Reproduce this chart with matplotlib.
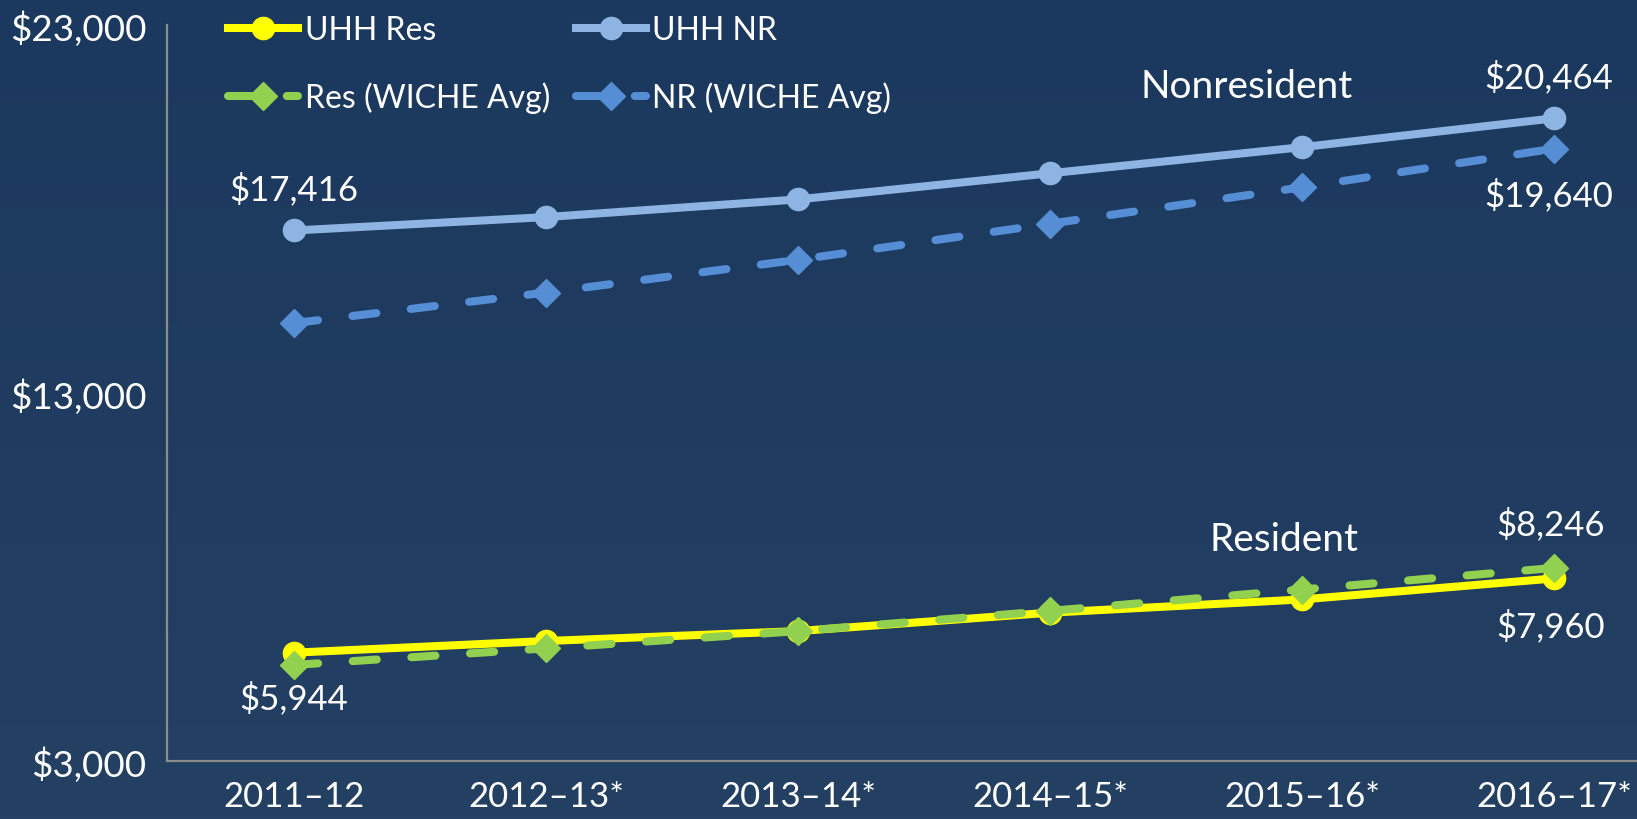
import matplotlib
matplotlib.use("Agg")
import matplotlib.pyplot as plt
import numpy as np

categories = ["2011\u201312", "2012\u201313*", "2013\u201314*", "2014\u201315*", "2015\u201316*", "2016\u201317*"]
uhh_res = [5944, 6260, 6530, 7030, 7390, 7960]
wiche_res = [5610, 6060, 6530, 7080, 7660, 8246]
uhh_nr = [17416, 17780, 18260, 18970, 19680, 20464]
wiche_nr = [14900, 15730, 16620, 17600, 18590, 19640]
y_ticks = [3000, 13000, 23000]

plt.rcParams['font.family'] = ['Lato', 'DejaVu Sans']
FS = 25

fig = plt.figure(figsize=(16.37, 8.20), dpi=100)
# background gradient
bg = fig.add_axes([0, 0, 1, 1], zorder=-10)
grad = np.linspace(0, 1, 256).reshape(-1, 1)
top = np.array([27, 56, 94]) / 255
bot = np.array([36, 64, 99]) / 255
img = top[None, None, :] * (1 - grad[:, :, None]) + bot[None, None, :] * grad[:, :, None]
bg.imshow(img, aspect='auto', extent=[0, 1, 0, 1])
bg.axis('off')

ax = fig.add_axes([167/1637, 58/820, 1 - 167/1637, 736/820])
ax.patch.set_alpha(0)
x = np.arange(len(categories))

c_yel = '#FFFF00'
c_lb = '#8DB4E2'
c_db = '#558ED5'
c_gr = '#92D050'

LW = 5.8
h1, = ax.plot(x, uhh_res, color=c_yel, lw=LW, marker='o', ms=16, label='UHH Res', zorder=3, clip_on=False)
h2, = ax.plot(x, uhh_nr, color=c_lb, lw=LW, marker='o', ms=16, label='UHH NR', zorder=3, clip_on=False)
h3, = ax.plot(x, wiche_res, color=c_gr, lw=LW, marker='D', ms=14, label='Res (WICHE Avg)', zorder=4,
              dashes=(3.0, 4.3), dash_capstyle='round', clip_on=False)
h4, = ax.plot(x, wiche_nr, color=c_db, lw=LW, marker='D', ms=14, label='NR (WICHE Avg)', zorder=4,
              dashes=(3.0, 4.3), dash_capstyle='round', clip_on=False)

ax.set_xlim(-0.504, 5.33)
ax.set_ylim(3000, 23000)
ax.set_yticks(y_ticks)
ax.set_yticklabels(["${:,}".format(v) for v in y_ticks])
ax.set_xticks(x)
ax.set_xticklabels(categories)
ax.tick_params(axis='both', length=0, labelsize=FS, colors='white')
ax.tick_params(axis='y', pad=15, labelsize=26.5)
ax.tick_params(axis='x', pad=14)
for s in ['top', 'right']:
    ax.spines[s].set_visible(False)
for s in ['left', 'bottom']:
    ax.spines[s].set_color('#8C8C8C')
    ax.spines[s].set_linewidth(1.6)

def lab(i, series, dy, dx=0):
    ax.annotate("${:,}".format(series[i]), (x[i], series[i]), xytext=(dx, dy), textcoords='offset points',
                ha='center', va='center', color='white', fontsize=FS)

lab(0, uhh_nr, 30)
lab(5, uhh_nr, 30, -4)
lab(5, wiche_nr, -33, -4)
lab(5, wiche_res, 32, -2)
lab(5, uhh_res, -34, -2)
lab(0, uhh_res, -32)

ax.text(3.78, 21350, "Nonresident", ha='center', va='center', color='white', fontsize=28)
ax.text(3.93, 9040, "Resident", ha='center', va='center', color='white', fontsize=28)

leg = fig.legend([h1, h3, h2, h4], ['UHH Res', 'Res (WICHE Avg)', 'UHH NR', 'NR (WICHE Avg)'],
                 ncol=2, loc='upper left', bbox_to_anchor=(212/1637, 1.0), frameon=False,
                 fontsize=23, labelcolor='white', handlelength=2.2, handletextpad=0.2,
                 columnspacing=0.8, labelspacing=1.15, borderaxespad=0.2, borderpad=0.3)

fig.savefig("out.png", dpi=100)
